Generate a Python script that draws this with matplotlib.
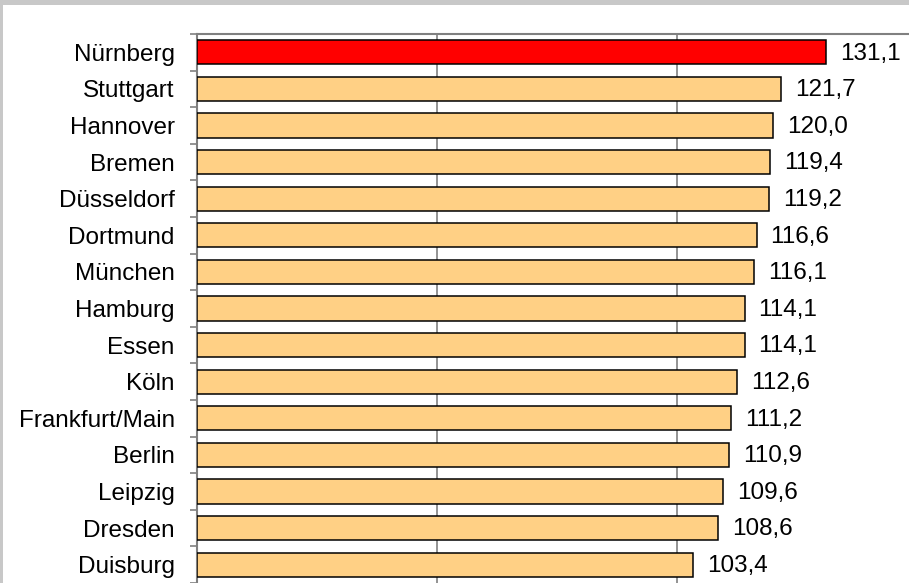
import matplotlib.pyplot as plt
from matplotlib.patches import Rectangle
import numpy as np

cities = ["Nürnberg", "Stuttgart", "Hannover", "Bremen", "Düsseldorf", "Dortmund",
          "München", "Hamburg", "Essen", "Köln", "Frankfurt/Main", "Berlin",
          "Leipzig", "Dresden", "Duisburg"]
values = [131.1, 121.7, 120.0, 119.4, 119.2, 116.6, 116.1, 114.1, 114.1,
          112.6, 111.2, 110.9, 109.6, 108.6, 103.4]
highlight = "Nürnberg"

plt.rcParams['font.family'] = ['Liberation Sans', 'DejaVu Sans']

W, H = 909, 583
fig = plt.figure(figsize=(W / 100, H / 100), dpi=100)
fig.patch.set_facecolor('white')

# grey frame at the top and left edge
fig.patches.append(Rectangle((0, 1 - 4.5 / H), 1, 4.5 / H, transform=fig.transFigure,
                             facecolor='#c8c8c8', edgecolor='none', zorder=0))
fig.patches.append(Rectangle((0, 0), 3 / W, 1, transform=fig.transFigure,
                             facecolor='#c8c8c8', edgecolor='none', zorder=0))

ax = fig.add_axes([197 / W, 0, 1 - 197 / W, 1 - 34 / H])

y = np.arange(len(cities))
colors = ['#ff0000' if c == highlight else '#ffd085' for c in cities]
ax.barh(y, values, height=0.66, color=colors, edgecolor='black', linewidth=1.1, zorder=3)

for yi, v in zip(y, values):
    ax.annotate(f"{v:.1f}".replace('.', ','), (v, yi), xytext=(10, -1),
                textcoords='offset points', va='center', ha='left', fontsize=17.5)

ax.set_xlim(0, (W - 197) / 4.8)
ax.set_ylim(len(cities) - 0.5, -0.5)
ax.set_xticks([50, 100])
ax.tick_params(axis='x', length=0, labelbottom=False)
ax.grid(axis='x', color='#808080', linewidth=1.2, zorder=0)

ax.set_yticks(y)
ax.set_yticklabels(cities, fontsize=17.5)
ax.set_yticks(np.arange(len(cities) + 1) - 0.5, minor=True)
ax.tick_params(axis='y', which='major', length=0, pad=16)
ax.tick_params(axis='y', which='minor', length=5, width=1.2, color='#808080')

for side in ['right', 'bottom']:
    ax.spines[side].set_visible(False)
for side in ['left', 'top']:
    ax.spines[side].set_color('#808080')
    ax.spines[side].set_linewidth(1.5)

fig.savefig('out.png', dpi=100)
